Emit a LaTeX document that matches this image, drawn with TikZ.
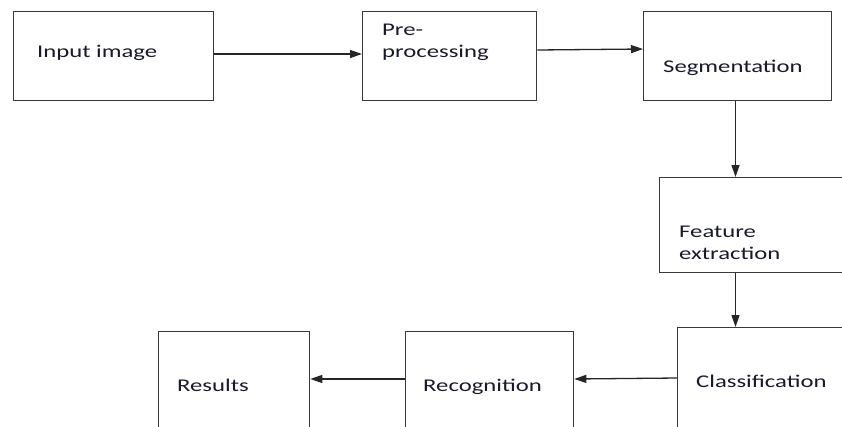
\documentclass[tikz,border=0pt]{standalone}
\usepackage{fontspec}
\setmainfont{Carlito}
\usetikzlibrary{arrows.meta}
\definecolor{edge}{RGB}{58,58,58}
\definecolor{ink}{RGB}{25,25,45}
\newcommand{\tx}[1]{\scalebox{1.38}[1]{#1}}
\tikzset{
  box/.style={draw=edge, line width=1.3pt, fill=white, inner sep=0pt, anchor=north west},
  lbl/.style={inner sep=0pt, anchor=base west, text=ink, align=left,
              font=\fontsize{17.9}{22.5}\selectfont},
  arr/.style={draw=black!85, line width=1.3pt, -{Triangle[length=12pt,width=8pt]}}
}
\begin{document}
\begin{tikzpicture}[x=1pt,y=-1pt]
\useasboundingbox (0,0) rectangle (842,426);
\clip (0,0) rectangle (842,426);
\fill[white] (0,0) rectangle (842,426);
% boxes
\node[box, minimum width=200pt, minimum height=89pt] (b1) at (13,11) {};
\node[box, minimum width=174pt, minimum height=89pt] (b2) at (362,11) {};
\node[box, minimum width=188pt, minimum height=89pt] (b3) at (643,11) {};
\node[box, minimum width=200pt, minimum height=95pt] (b4) at (659,177) {};
\node[box, minimum width=200pt, minimum height=150pt] (b5) at (677,327) {};
\node[box, minimum width=168pt, minimum height=150pt] (b6) at (405,331) {};
\node[box, minimum width=151pt, minimum height=150pt] (b7) at (158,331) {};
% labels
\node[lbl] (t1) at (37,57.5) {\tx{Input image}};
\node[lbl] (t2) at (382,57.5) {\tx{Pre-}\\\tx{processing}};
\node[lbl] (t3) at (663,72) {\tx{Segmentation}};
\node[lbl] (t4) at (679,259.5) {\tx{Feature}\\\tx{extraction}};
\node[lbl] (t5) at (696,387) {\tx{Classification}};
\node[lbl] (t6) at (423,391) {\tx{Recognition}};
\node[lbl] (t7) at (177,391) {\tx{Results}};
% connectors
\draw[arr] (b1.east |- 0,54) -- (b2.west |- 0,54);
\draw[arr] (b2.east |- 0,50) -- (b3.west |- 0,49);
\draw[arr] (b3.south west -| 735.5,0) -- (b4.north west -| 735.5,0);
\draw[arr] (b4.south west -| 735.5,0) -- (b5.north west -| 735.5,0);
\draw[arr] (b5.west |- 0,378) -- (b6.east |- 0,379);
\draw[arr] (b6.west |- 0,379) -- (b7.east |- 0,379);
\end{tikzpicture}
\end{document}
